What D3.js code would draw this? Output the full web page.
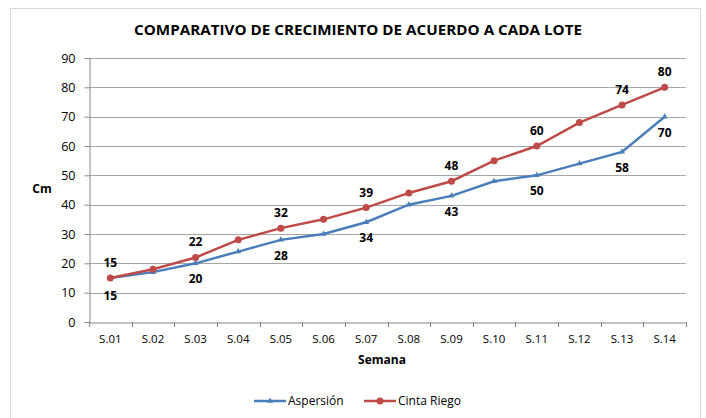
<!DOCTYPE html>
<html><head><meta charset="utf-8">
<script src="https://cdn.jsdelivr.net/npm/d3@7"></script>
<style>body{margin:0;background:#fff}svg{display:block;font-family:"Open Sans","Liberation Sans",sans-serif}</style>
</head><body><svg id="c" width="706" height="418"></svg>
<script>
const categories = ["S.01","S.02","S.03","S.04","S.05","S.06","S.07","S.08","S.09","S.10","S.11","S.12","S.13","S.14"];
const aspersion = [15,17,20,24,28,30,34,40,43,48,50,54,58,70];
const cintaRiego = [15,18,22,28,32,35,39,44,48,55,60,68,74,80];
const yTicks = [0,10,20,30,40,50,60,70,80,90];
const labelIdx = [0,2,4,6,8,10,12,13];

const svg = d3.select("#c");
svg.append("rect").attr("x",10.5).attr("y",8.5).attr("width",690).attr("height",420).attr("fill","#fff").attr("stroke","#d9d9d9");

const L=89,R=686,T=58,B=322;
const x = d3.scaleBand().domain(categories).range([L,R]);
const y = d3.scaleLinear().domain([0,90]).range([B,T]);
const cx = d => x(d)+x.bandwidth()/2;

svg.append("text").attr("x",358).attr("y",35).attr("text-anchor","middle").attr("font-weight","bold").attr("font-size",15).attr("textLength",448).attr("lengthAdjust","spacingAndGlyphs").attr("fill","#000").text("COMPARATIVO DE CRECIMIENTO DE ACUERDO A CADA LOTE");

// grid
svg.append("g").selectAll("line").data(yTicks.filter(t=>t>0)).join("line")
 .attr("x1",L).attr("x2",R).attr("y1",d=>Math.round(y(d))+0.5).attr("y2",d=>Math.round(y(d))+0.5).attr("stroke","#a6a6a6");
// axes
const ya = svg.append("g").attr("transform",`translate(${L+0.5},0)`).call(d3.axisLeft(y).tickValues(yTicks).tickSize(5).tickPadding(9));
ya.select(".domain").attr("stroke","#868686");
ya.selectAll(".tick line").attr("stroke","#868686");
ya.selectAll("text").attr("font-size",12.5).attr("fill","#000").attr("font-family","Open Sans, sans-serif");
const xa = svg.append("g").attr("transform",`translate(0,${Math.round(B)+0.5})`).call(d3.axisBottom(x).tickSize(0).tickPadding(12));
xa.select(".domain").attr("stroke","#868686");
xa.selectAll("text").attr("font-size",11.5).attr("fill","#000").attr("font-family","Open Sans, sans-serif");
svg.append("g").selectAll("line").data(d3.range(categories.length+1)).join("line")
 .attr("x1",i=>Math.round(L+i*x.step())+0.5).attr("x2",i=>Math.round(L+i*x.step())+0.5).attr("y1",B).attr("y2",B+5).attr("stroke","#868686");

svg.append("text").attr("x",42).attr("y",193).attr("text-anchor","middle").attr("font-weight","bold").attr("font-size",12).text("Cm");
svg.append("text").attr("x",382).attr("y",364).attr("text-anchor","middle").attr("font-weight","bold").attr("font-size",12).text("Semana");

const line = d3.line().x((d,i)=>cx(categories[i])).y(d=>y(d));
const blue="#4a7ebb", red="#be4b48";
svg.append("path").attr("d",line(aspersion)).attr("fill","none").attr("stroke",blue).attr("stroke-width",2.5);
svg.append("g").selectAll("path").data(aspersion).join("path")
 .attr("d",d3.symbol(d3.symbolTriangle,16)).attr("transform",(d,i)=>`translate(${cx(categories[i])},${y(d)})`).attr("fill",blue);
svg.append("path").attr("d",line(cintaRiego)).attr("fill","none").attr("stroke",red).attr("stroke-width",2.5);
svg.append("g").selectAll("circle").data(cintaRiego).join("circle")
 .attr("cx",(d,i)=>cx(categories[i])).attr("cy",d=>y(d)).attr("r",3.5).attr("fill",red);

// labels
svg.append("g").selectAll("text").data(labelIdx).join("text")
 .attr("x",i=>cx(categories[i])).attr("y",i=>y(cintaRiego[i])-11).attr("text-anchor","middle").attr("font-weight","bold").attr("font-size",12).text(i=>cintaRiego[i]);
svg.append("g").selectAll("text").data(labelIdx).join("text")
 .attr("x",i=>cx(categories[i])).attr("y",i=>y(aspersion[i])+(i===0?22:20)).attr("text-anchor","middle").attr("font-weight","bold").attr("font-size",12).text(i=>aspersion[i]);

// legend
const lg = svg.append("g").attr("font-size",12);
lg.append("line").attr("x1",254).attr("x2",286).attr("y1",401).attr("y2",401).attr("stroke",blue).attr("stroke-width",2.5);
lg.append("path").attr("d",d3.symbol(d3.symbolTriangle,16)).attr("transform","translate(270,401)").attr("fill",blue);
lg.append("text").attr("x",288).attr("y",405).text("Aspersión");
lg.append("line").attr("x1",364).attr("x2",396).attr("y1",401).attr("y2",401).attr("stroke",red).attr("stroke-width",2.5);
lg.append("circle").attr("cx",380).attr("cy",401).attr("r",3.5).attr("fill",red);
lg.append("text").attr("x",398).attr("y",405).text("Cinta Riego");
</script></body></html>
